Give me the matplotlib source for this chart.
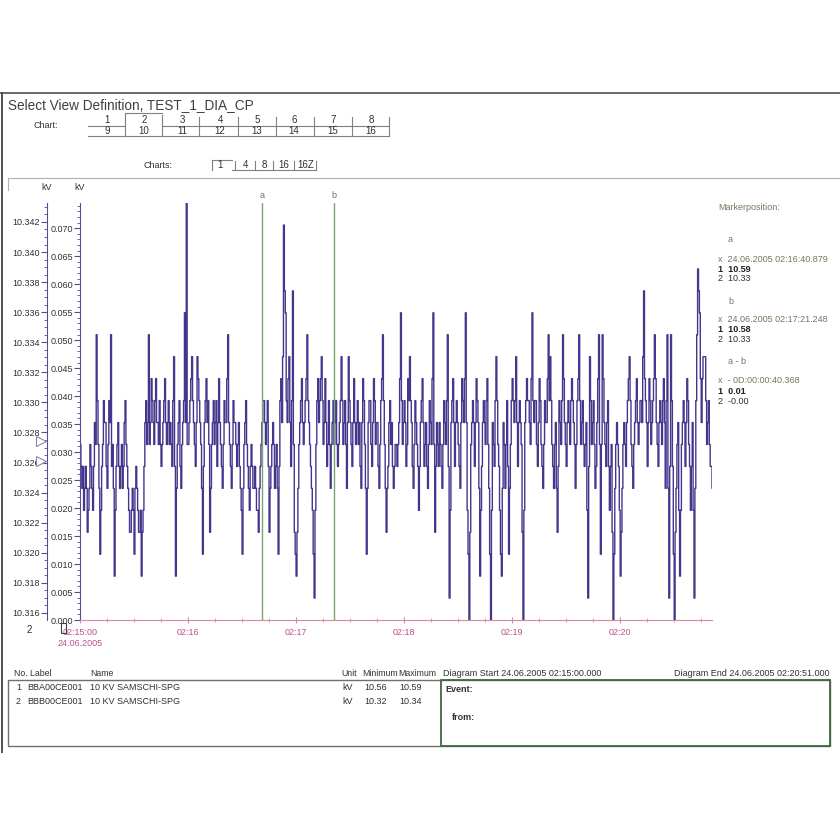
import matplotlib
matplotlib.use("Agg")
import matplotlib.pyplot as plt
from matplotlib.lines import Line2D
from matplotlib.patches import Rectangle
from matplotlib.ticker import MultipleLocator, FormatStrFormatter

# signal levels (multiples of the quantisation step)
# whole-second samples, one list per minute
min_15 = [8, 6, 5, 7, 4, 6, 7, 5, 9, 13, 8, 3, 7, 10, 9, 6, 10, 13, 8, 2,
          7, 9, 6, 8, 7, 10, 7, 5, 4, 6, 3, 7, 5, 4, 2, 5, 9, 8, 13, 9,
          10, 8, 11, 9, 10, 7, 9, 11, 8, 10, 9, 7, 12, 2, 8, 10, 6, 9, 14, 19]
min_16 = [8, 10, 12, 9, 7, 12, 10, 8, 3, 9, 11, 10, 4, 8, 10, 9, 7, 11, 8, 6,
          10, 9, 13, 8, 6, 10, 9, 7, 9, 6, 3, 8, 10, 7, 5, 8, 6, 7, 5, 4,
          7, 9, 10, 8, 10, 4, 7, 9, 6, 8, 3, 10, 9, 18, 14, 9, 12, 7, 15, 4]
min_17 = [2, 6, 9, 11, 8, 10, 13, 9, 7, 5, 1, 8, 11, 10, 12, 8, 11, 7, 10, 6,
          9, 8, 10, 7, 9, 12, 8, 10, 6, 12, 9, 7, 11, 8, 10, 9, 6, 11, 8, 3,
          9, 10, 7, 11, 8, 9, 6, 10, 13, 8, 4, 7, 10, 9, 6, 8, 7, 9, 14, 8]
min_18 = [10, 7, 11, 12, 9, 6, 10, 8, 5, 9, 11, 7, 9, 6, 10, 8, 14, 4, 9, 7,
          8, 6, 10, 8, 13, 1, 9, 11, 7, 10, 8, 6, 11, 9, 14, 5, 0, 8, 10, 7,
          11, 9, 2, 7, 10, 8, 11, 6, 0, 9, 7, 12, 8, 5, 2, 9, 6, 10, 3, 8]
min_19 = [11, 9, 12, 7, 10, 8, 0, 9, 11, 10, 8, 14, 9, 10, 7, 11, 8, 6, 10, 9,
          13, 12, 8, 6, 9, 4, 10, 8, 13, 9, 7, 10, 8, 11, 9, 6, 10, 13, 8, 10,
          7, 9, 1, 12, 8, 10, 6, 9, 13, 3, 13, 9, 7, 10, 5, 8, 0, 6, 9, 7]
min_20 = [2, 6, 9, 7, 10, 12, 8, 6, 9, 11, 8, 10, 9, 15, 10, 7, 11, 8, 10, 13,
          9, 7, 10, 8, 11, 6, 13, 1, 13, 7, 0, 6, 9, 2, 8, 10, 7, 11, 8, 5,
          9, 1, 10, 16, 14, 9, 12, 12, 8, 10, 7, 6]
# half-second samples in between
half_15 = [7, 7, 6, 6, 5, 8, 6, 7, 8, 10, 6, 5, 8, 9, 7, 8, 9, 7, 6, 5,
           8, 7, 7, 6, 9, 8, 6, 4, 5, 5, 6, 6, 4, 5, 4, 7, 10, 9, 8, 11,
           9, 10, 9, 8, 8, 8, 10, 9, 9, 8, 8, 10, 7, 6, 9, 7, 8, 10, 9, 8]
half_16 = [9, 11, 10, 8, 9, 11, 9, 6, 7, 10, 9, 8, 6, 9, 8, 10, 9, 9, 7, 8,
           9, 11, 9, 7, 8, 9, 8, 8, 7, 5, 6, 9, 8, 6, 7, 7, 6, 6, 5, 6,
           8, 10, 9, 9, 7, 6, 8, 8, 7, 6, 7, 11, 12, 15, 10, 11, 9, 10, 8, 3]
half_17 = [4, 8, 10, 9, 9, 11, 10, 8, 6, 3, 5, 10, 9, 11, 10, 9, 9, 8, 8, 8,
           10, 9, 8, 8, 10, 10, 9, 8, 9, 10, 8, 9, 9, 9, 8, 7, 9, 10, 6, 6,
           10, 8, 9, 10, 9, 7, 8, 11, 10, 6, 6, 9, 8, 7, 7, 8, 8, 11, 10, 9]
half_18 = [9, 8, 10, 10, 7, 8, 9, 7, 7, 10, 9, 8, 7, 8, 9, 11, 8, 7, 8, 9,
           7, 8, 9, 10, 7, 5, 10, 9, 9, 9, 7, 9, 10, 11, 9, 3, 4, 9, 9, 9,
           10, 6, 5, 9, 9, 10, 8, 3, 5, 8, 10, 10, 7, 3, 6, 8, 8, 7, 6, 10]
half_19 = [10, 10, 9, 9, 9, 4, 5, 10, 10, 9, 11, 10, 10, 8, 9, 10, 7, 8, 9, 11,
           10, 10, 7, 8, 6, 7, 9, 10, 11, 8, 9, 9, 10, 10, 8, 8, 11, 10, 9, 8,
           8, 5, 7, 10, 9, 8, 7, 11, 8, 8, 11, 8, 9, 7, 7, 4, 3, 8, 8, 5]
half_20 = [4, 8, 8, 9, 11, 10, 7, 8, 10, 9, 9, 10, 12, 11, 9, 9, 10, 9, 11, 11,
           8, 9, 9, 10, 9, 10, 6, 7, 10, 3, 4, 8, 5, 5, 9, 9, 9, 10, 7, 7,
           5, 6, 13, 15, 11, 11, 12, 10, 9, 8, 7, 6]
step_kv = 0.00392

marker_times = [100.879, 141.248]
marker_names = ["a", "b"]

inner_ticks = [0.000, 0.005, 0.010, 0.015, 0.020, 0.025, 0.030, 0.035,
               0.040, 0.045, 0.050, 0.055, 0.060, 0.065, 0.070]
outer_ticks = [10.316, 10.318, 10.320, 10.322, 10.324, 10.326, 10.328,
               10.330, 10.332, 10.334, 10.336, 10.338, 10.340, 10.342]
time_ticks = [0, 60, 120, 180, 240, 300]
time_labels = ["02:15:00\n24.06.2005", "02:16", "02:17", "02:18", "02:19", "02:20"]

tabs_top = ["1", "2", "3", "4", "5", "6", "7", "8"]
tabs_bottom = ["9", "10", "11", "12", "13", "14", "15", "16"]
charts_buttons = ["1", "4", "8", "16", "16Z"]

marker_info = [("a", "24.06.2005 02:16:40.879", "10.59", "10.33"),
               ("b", "24.06.2005 02:17:21.248", "10.58", "10.33"),
               ("a - b", "- 0D:00:00:40.368", "0.01", "-0.00")]

table_header = ["No. Label", "Name", "Unit", "Minimum", "Maximum"]
row_labels = ["BBA00CE001", "BBB00CE001"]
row_names = ["10 KV SAMSCHI-SPG", "10 KV SAMSCHI-SPG"]
row_min = ["10.56", "10.32"]
row_max = ["10.59", "10.34"]

W = 840
H = 840
plt.rcParams['font.family'] = ['Liberation Sans Narrow', 'Liberation Sans', 'DejaVu Sans']

fig = plt.figure(figsize=(8.4, 8.4), dpi=100)
fig.patch.set_facecolor("white")


def fx(px):
    return px / W


def fy(py):
    return 1 - py / H


def txt(x, y, s, size=6.5, color="#303030", **kw):
    fig.text(fx(x), fy(y), s, fontsize=size, color=color, va="center", **kw)


def line(xs, ys, color="#808080", lw=0.8):
    fig.add_artist(Line2D([fx(v) for v in xs], [fy(v) for v in ys],
                          transform=fig.transFigure, color=color, lw=lw))


# window frame
line([0, 840], [93, 93], color="#505050", lw=1.2)
line([2, 2], [93, 752], color="#505050", lw=1.4)
line([8, 840], [178, 178], color="#b0b0b0", lw=0.8)
line([8, 8], [178, 190], color="#b0b0b0", lw=0.8)

txt(8, 105, "Select View Definition, TEST_1_DIA_CP", size=9.8, color="#404040")

# chart tabs
txt(33, 126, "Chart:", size=6.5)
tab_x = [107, 144, 182, 220, 257, 294, 333, 371]
sep_x = [88, 125, 162, 199, 238, 276, 314, 352, 389]
for i in range(len(tabs_top)):
    txt(tab_x[i], 120, tabs_top[i], size=7, ha="center")
    txt(tab_x[i], 131, tabs_bottom[i], size=7, ha="center")
line([88, 125], [126, 126])
line([162, 389], [126, 126])
line([88, 389], [136, 136])
line([125, 125], [113, 126])
line([125, 162], [113, 113])
line([162, 162], [115, 126])
for sx in sep_x[3:]:
    line([sx, sx], [117, 126])
for sx in sep_x[1:]:
    line([sx, sx], [127, 136])

txt(143, 165, "Charts:", size=6.5)
btn_x = [220, 245, 264, 284, 306]
for i in range(len(charts_buttons)):
    txt(btn_x[i], 165, charts_buttons[i], size=7, ha="center")
line([212, 212], [160, 170])
line([212, 232], [160, 160])
line([232, 316], [170, 170])
for sx in [235, 255, 273, 294, 316]:
    line([sx, sx], [161, 170])

# main chart: interleave whole and half second samples
whole = min_15 + min_16 + min_17 + min_18 + min_19 + min_20
half = half_15 + half_16 + half_17 + half_18 + half_19 + half_20
seconds = []
values = []
for i in range(len(whole)):
    seconds.append(i)
    values.append(whole[i] * step_kv)
    seconds.append(i + 0.5)
    values.append(half[i] * step_kv)

ax = fig.add_axes([fx(80), fy(620), 632 / W, 417 / H])
ax.step(seconds, values, where="post", color="#43368c", lw=1.0)
ax.set_xlim(0, 351)
ax.set_ylim(0, 0.0745)
for s in ["top", "right"]:
    ax.spines[s].set_visible(False)
ax.spines["left"].set_color("#5a4b98")
ax.spines["bottom"].set_color("#d88aa8")
ax.set_yticks(inner_ticks)
ax.yaxis.set_major_formatter(FormatStrFormatter("%.3f"))
ax.yaxis.set_minor_locator(MultipleLocator(0.001))
ax.tick_params(axis="y", which="major", length=4, color="#5a4b98",
               labelsize=6.5, labelcolor="#303030", pad=1)
ax.tick_params(axis="y", which="minor", length=2, color="#5a4b98")
ax.set_xticks(time_ticks)
ax.set_xticklabels(time_labels)
ax.xaxis.set_minor_locator(MultipleLocator(15))
ax.tick_params(axis="x", which="major", length=4, direction="inout",
               color="#d88aa8", labelsize=6.5, labelcolor="#c0508a", pad=4)
ax.tick_params(axis="x", which="minor", length=3, direction="inout", color="#d88aa8")
for t, name in zip(marker_times, marker_names):
    ax.axvline(t, color="#7fa070", lw=1.0, ymax=1.0)
    ax.text(t, 0.0758, name, ha="center", va="center", fontsize=6.5,
            color="#707070", clip_on=False)

# outer value axis
ax2 = fig.add_axes([fx(47), fy(620), 0.0005, 417 / H])
ax2.set_ylim(10.31553, 10.34326)
ax2.patch.set_visible(False)
for s in ["top", "right", "bottom"]:
    ax2.spines[s].set_visible(False)
ax2.spines["left"].set_color("#5a4b98")
ax2.set_xticks([])
ax2.set_yticks(outer_ticks)
ax2.yaxis.set_major_formatter(FormatStrFormatter("%.3f"))
ax2.yaxis.set_minor_locator(MultipleLocator(0.0005))
ax2.tick_params(axis="y", which="major", length=4, color="#5a4b98",
                labelsize=6.5, labelcolor="#303030", pad=1)
ax2.tick_params(axis="y", which="minor", length=2, color="#5a4b98")

txt(47, 188, "kV", size=6.5, ha="center")
txt(80, 188, "kV", size=6.5, ha="center")
for ty in [441, 461]:
    fig.add_artist(Line2D([fx(41)], [fy(ty)], transform=fig.transFigure,
                          marker=">", markersize=7, markerfacecolor="white",
                          markeredgecolor="#8a86a8", markeredgewidth=0.8))
txt(29, 630, "2", size=7, ha="center")
fig.add_artist(Rectangle((fx(61), fy(633)), 5 / W, 10 / H, transform=fig.transFigure,
                         fill=False, edgecolor="#404040", lw=0.8))

# marker panel
txt(718, 208, "Markerposition:", size=6.5, color="#6f7a60")
y0 = 240
for name, when, v1, v2 in marker_info:
    txt(728, y0, name, size=6.5, color="#6f7a60")
    txt(718, y0 + 19, "x  " + when, size=6.5, color="#6f7a60")
    txt(718, y0 + 29, "1  " + v1, size=6.5, color="#202020", fontweight="bold")
    txt(718, y0 + 39, "2  " + v2, size=6.5, color="#303030")
    y0 += 61

# legend table
head_x = [14, 90, 341, 362, 398]
for hx, h in zip(head_x, table_header):
    txt(hx, 673, h, size=6.3)
txt(443, 673, "Diagram Start 24.06.2005 02:15:00.000", size=6.5)
txt(830, 673, "Diagram End 24.06.2005 02:20:51.000", size=6.5, ha="right")
fig.add_artist(Rectangle((fx(8), fy(746)), 822 / W, 66 / H, transform=fig.transFigure,
                         fill=False, edgecolor="#707070", lw=1.0))
fig.add_artist(Rectangle((fx(441), fy(746)), 389 / W, 66 / H, transform=fig.transFigure,
                         fill=False, edgecolor="#3f6a3f", lw=1.3))
for i in range(len(row_labels)):
    ry = 688 + 13 * i
    txt(16, ry, str(i + 1), size=6.5)
    txt(27, ry, row_labels[i], size=6.5)
    txt(90, ry, row_names[i], size=6.5)
    txt(342, ry, "kV", size=6.5)
    txt(364, ry, row_min[i], size=6.5)
    txt(399, ry, row_max[i], size=6.5)
txt(445, 689, "Event:", size=6.5, fontweight="bold")
txt(452, 718, "from:", size=6.5, fontweight="bold")

fig.savefig("out.png", dpi=100, facecolor="white")
